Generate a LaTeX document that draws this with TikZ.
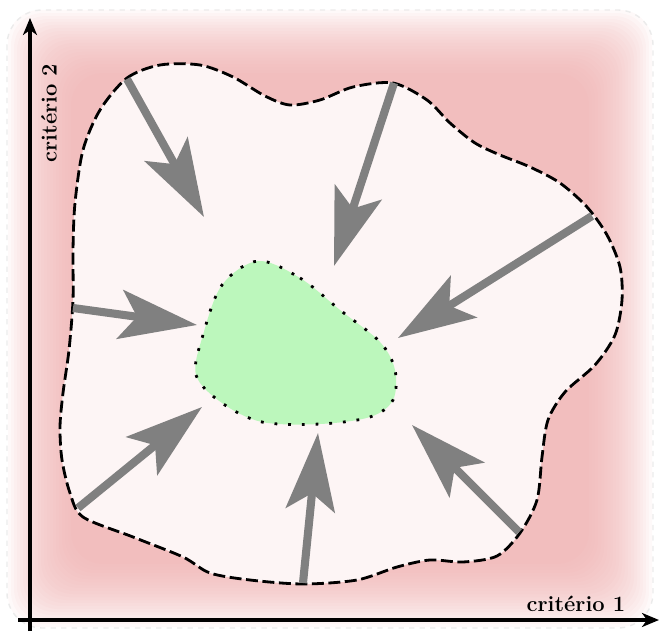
\documentclass[tikz,border=0pt]{standalone}
\usepackage{tikz}
\usepackage{xcolor}
\usetikzlibrary{arrows.meta}
\definecolor{crpink}{RGB}{238,172,172}
\definecolor{crpale}{RGB}{253,245,245}
\definecolor{crgreen}{RGB}{188,247,188}
\definecolor{crgray}{RGB}{128,128,128}
\tikzset{
  craxis/.style={-{Stealth[length=3.4mm, width=2.8mm, inset=1mm]}, line width=2pt, draw=black},
  crborder/.style={draw=black, line width=1.6pt, dash pattern=on 6.8pt off 2.6pt, fill=crpale},
  crcore/.style={draw=black, line width=1.6pt, dash pattern=on 1.6pt off 6.2pt, fill=crgreen},
  crarr/.style={-{Stealth[length=15.5mm, width=9.8mm, inset=3.4mm]}, line width=4.6pt, draw=crgray},
  crlabel/.style={font=\large\bfseries, inner sep=0pt, scale=1.04}
}

\begin{document}
\begin{tikzpicture}[x=0.02cm, y=-0.02cm]
  \useasboundingbox (0,0) rectangle (660,635);
  % soft pink background
  \foreach \k in {0,...,21} {
    \fill[crpink, opacity=.065, rounded corners=18] (8+3*\k,10+3*\k) rectangle (652-3*\k,627-3*\k);
  }
  \draw[black!8, line width=.8pt, dashed, rounded corners=20] (7,10) rectangle (653,628);
  % outer region
  \draw[crborder] plot[smooth cycle, tension=.5] coordinates {
    (100,110) (127,78) (160,65) (200,65) (233,77) (265,96) (290,105) (320,100) (353,87) (393,83)
    (427,100) (450,123) (475,143) (500,155) (530,167) (560,183) (587,207) (607,235) (620,267)
    (622,300) (615,335) (595,365) (565,392) (548,420) (542,457) (537,500) (520,533) (497,556)
    (463,562) (430,560) (397,567) (357,580) (303,584) (250,580) (210,573) (183,557) (133,537)
    (83,517) (70,493) (62,460) (60,427) (63,393) (69,350) (73,300) (73,250) (75,203) (83,150)};
  % inner region
  \draw[crcore] plot[smooth cycle, tension=.55] coordinates {
    (258,261) (300,278) (340,310) (380,342) (395,370) (393,400) (370,417) (320,424) (262,422)
    (222,403) (196,375) (203,335) (222,285)};
  % arrow ends
  \coordinate (s1) at (127,79);
  \coordinate (t1) at (204,217);
  \coordinate (s2) at (394,83);
  \coordinate (t2) at (334,266);
  \coordinate (s3) at (592,216);
  \coordinate (t3) at (398,338);
  \coordinate (s4) at (73,308);
  \coordinate (t4) at (197,325);
  \coordinate (s5) at (78,508);
  \coordinate (t5) at (202,407);
  \coordinate (s6) at (303,583);
  \coordinate (t6) at (318,433);
  \coordinate (s7) at (519,532);
  \coordinate (t7) at (412,425);
  \foreach \i in {1,...,7} {
    \draw[crarr] (s\i) -- (t\i);
  }
  % axes
  \coordinate (yfoot) at (30,631);
  \coordinate (ytip) at (30,18);
  \coordinate (xfoot) at (18,620);
  \coordinate (xtip) at (659,620);
  \draw[craxis] (yfoot) -- (ytip);
  \draw[craxis] (xfoot) -- (xtip);
  \node[crlabel, rotate=90] (ylab) at (49,113) {critério 2};
  \node[crlabel] (xlab) at (576,604) {critério 1};
\end{tikzpicture}
\end{document}
